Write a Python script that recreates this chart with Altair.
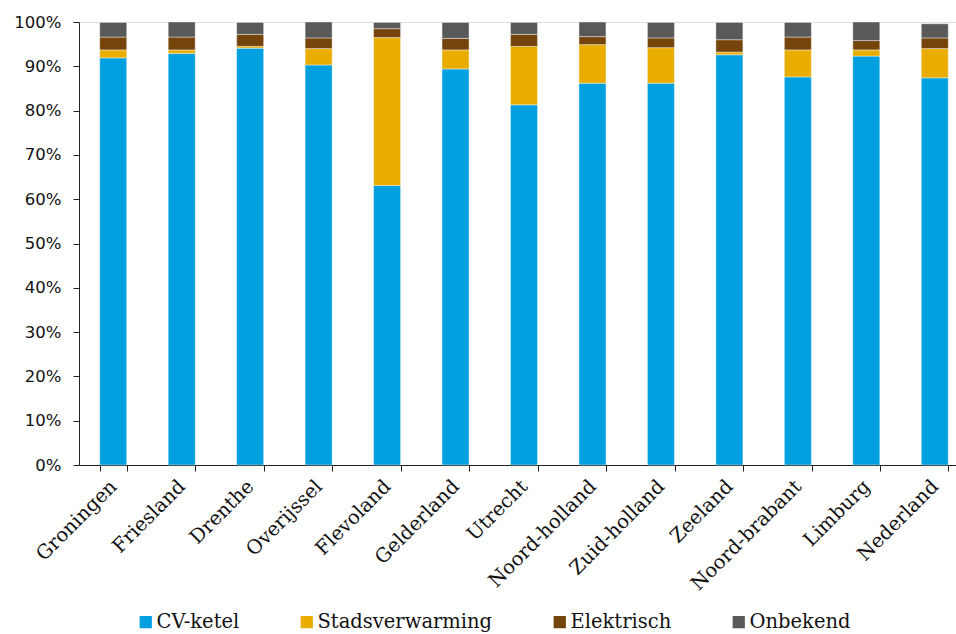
import altair as alt
import pandas as pd

# Heating type shares per province (fraction of dwellings)
provinces = ["Groningen", "Friesland", "Drenthe", "Overijssel", "Flevoland", "Gelderland",
             "Utrecht", "Noord-holland", "Zuid-holland", "Zeeland", "Noord-brabant",
             "Limburg", "Nederland"]
cv_ketel = [91.9, 92.9, 94.1, 90.3, 63.1, 89.4, 81.3, 86.2, 86.2, 92.6, 87.6, 92.3, 87.4]
stadsverwarming = [1.8, 0.8, 0.4, 3.7, 33.4, 4.3, 13.2, 8.7, 8.0, 0.6, 6.1, 1.4, 6.6]
elektrisch = [2.9, 2.9, 2.7, 2.4, 2.0, 2.6, 2.7, 1.8, 2.2, 2.8, 2.9, 2.1, 2.4]
onbekend = [3.3, 3.4, 2.7, 3.6, 1.4, 3.6, 2.7, 3.3, 3.5, 3.9, 3.3, 4.2, 3.2]

series = ["CV-ketel", "Stadsverwarming", "Elektrisch", "Onbekend"]
colors = ["#009FE0", "#E9AD00", "#74440A", "#595959"]

rows = []
for name, vals in zip(series, [cv_ketel, stadsverwarming, elektrisch, onbekend]):
    for prov, v in zip(provinces, vals):
        rows.append({"provincie": prov, "type": name, "aandeel": v / 100,
                     "volgorde": series.index(name)})
df = pd.DataFrame(rows)

axis_color = "#222222"

chart = alt.Chart(df).mark_bar(
    size=27, stroke="#ffffff", strokeWidth=0.8, strokeOpacity=0.5
).encode(
    x=alt.X("provincie:N", sort=provinces, title=None,
            scale=alt.Scale(range=[0, 890], paddingInner=0.6, paddingOuter=0.3),
            axis=alt.Axis(labelAngle=-45, labelFont="DejaVu Serif", labelFontSize=19.5,
                          labelColor="#111111", labelPadding=12, tickBand="extent",
                          tickSize=6, tickColor=axis_color, domainColor=axis_color,
                          labelAlign="right", labelBaseline="middle")),
    y=alt.Y("aandeel:Q", stack="zero", title=None,
            scale=alt.Scale(domain=[0, 1], nice=False),
            axis=alt.Axis(format=".0%", values=[i / 10 for i in range(11)],
                          labelFont="DejaVu Sans", labelFontSize=16.5, labelColor="#111111",
                          labelPadding=12, tickSize=6, tickColor=axis_color,
                          domainColor=axis_color, grid=False)),
    color=alt.Color("type:N", sort=series,
                    scale=alt.Scale(domain=series, range=colors),
                    legend=alt.Legend(title=None, orient="none", direction="horizontal",
                                      legendX=57, legendY=590, symbolType="square",
                                      symbolSize=150, symbolStrokeWidth=0,
                                      labelFont="DejaVu Serif", labelFontSize=19.5,
                                      labelLimit=400, labelColor="#111111",
                                      columnPadding=57, labelOffset=1)),
    order=alt.Order("volgorde:Q", sort="ascending"),
).properties(
    width=877, height=443,
    autosize=alt.AutoSizeParams(type="none"),
    padding={"left": 79, "top": 22, "right": 0, "bottom": 169},
).configure_view(strokeWidth=0).configure(background="#ffffff")

chart.save("out.html", embed_options={"renderer": "svg", "actions": False})
